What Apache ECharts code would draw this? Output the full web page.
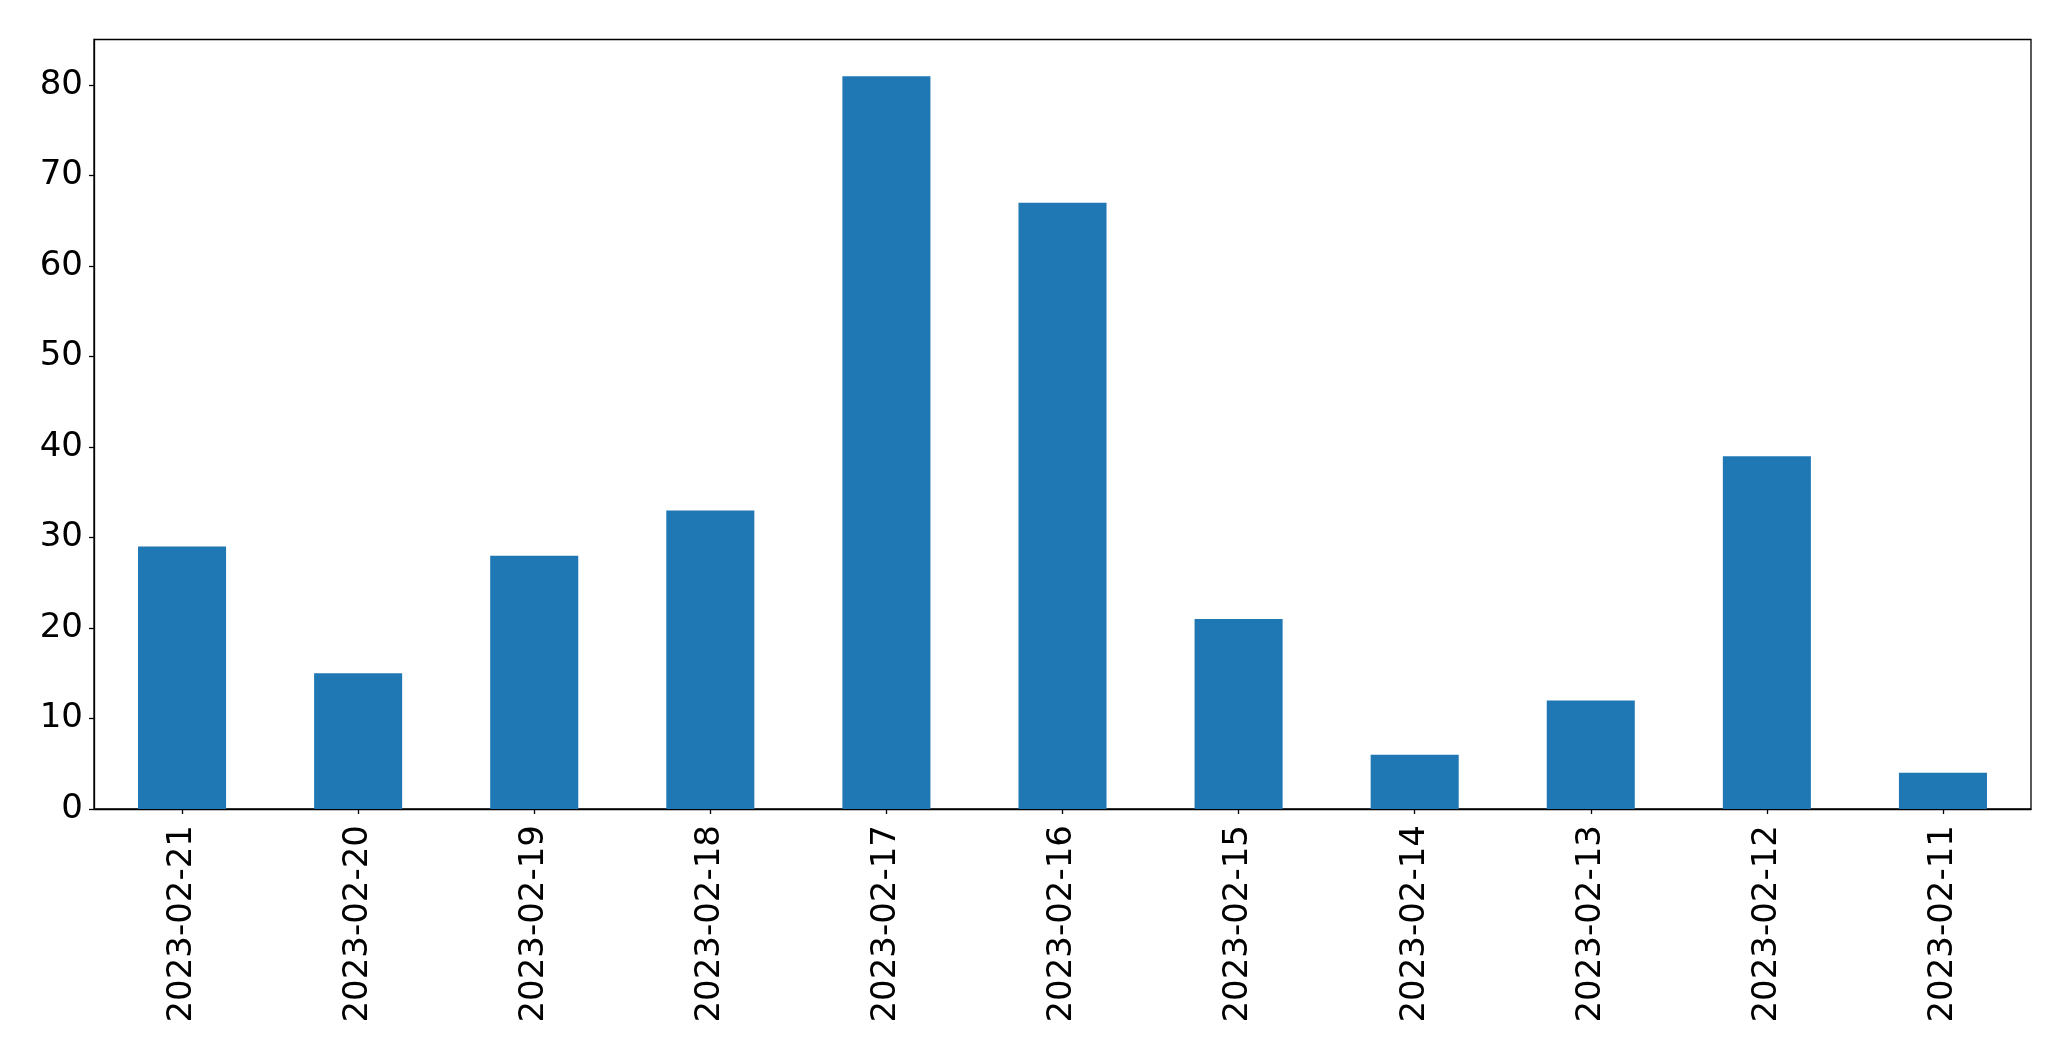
<!DOCTYPE html>
<html>
<head>
<meta charset="utf-8">
<script src="https://cdn.jsdelivr.net/npm/echarts@6/dist/echarts.min.js"></script>
<style>html,body{margin:0;padding:0;background:#fff;}#chart{width:2071px;height:1061px;}</style>
</head>
<body>
<div id="chart"></div>
<script>
const categories = ['2023-02-21','2023-02-20','2023-02-19','2023-02-18','2023-02-17','2023-02-16','2023-02-15','2023-02-14','2023-02-13','2023-02-12','2023-02-11'];
const values = [29, 15, 28, 33, 81, 67, 21, 6, 12, 39, 4];
const yTicks = [0, 10, 20, 30, 40, 50, 60, 70, 80];

const chart = echarts.init(document.getElementById('chart'), null, {renderer: 'canvas'});
const font = 'DejaVu Sans';
chart.setOption({
  animation: false,
  backgroundColor: '#ffffff',
  grid: {
    left: 94, top: 39.5, width: 1937, height: 769.5,
    show: true, borderColor: '#000', borderWidth: 1.3, backgroundColor: 'transparent'
  },
  xAxis: {
    type: 'category',
    data: categories,
    boundaryGap: true,
    axisLine: {show: true, lineStyle: {color: '#000', width: 1.3}},
    axisTick: {show: true, alignWithLabel: true, length: 5, lineStyle: {color: '#000', width: 1.3}},
    axisLabel: {rotate: 90, margin: 16, color: '#000', fontFamily: font, fontSize: 34, interval: 0},
    splitLine: {show: false}
  },
  yAxis: {
    type: 'value',
    min: 0, max: 85.05, interval: 10,
    axisLine: {show: true, lineStyle: {color: '#000', width: 1.3}},
    axisTick: {show: true, length: 5, customValues: yTicks, lineStyle: {color: '#000', width: 1.3}},
    axisLabel: {
      margin: 11, color: '#000', fontFamily: font, fontSize: 34, customValues: yTicks,
      formatter: function (v) { return String(v); }
    },
    splitLine: {show: false}
  },
  series: [{
    type: 'bar',
    data: values,
    barWidth: '50%',
    itemStyle: {color: '#1f77b4'}
  }]
});
</script>
</body>
</html>
